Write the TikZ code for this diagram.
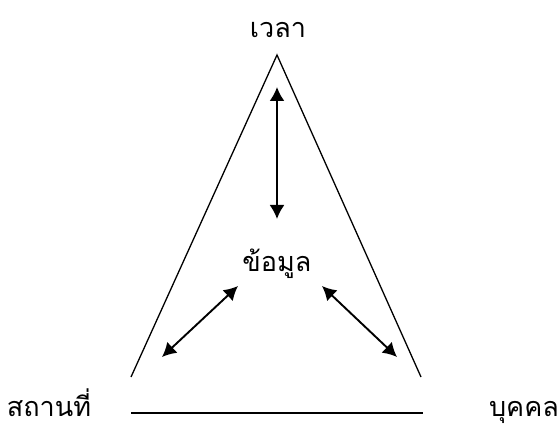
\documentclass[tikz,border=0pt]{standalone}
\usepackage{fontspec}
\newfontfamily\thaifont[Script=Thai]{Loma}
\usetikzlibrary{arrows.meta}

\begin{document}
\begin{tikzpicture}[
  x=1pt,
  y=-1pt,
  every node/.style={font=\thaifont\fontsize{27}{31}\selectfont, anchor=base, inner sep=0pt},
  edge/.style={line width=1.3pt},
  arrow/.style={{Latex[length=14pt,width=15pt]}-{Latex[length=14pt,width=15pt]}, line width=1.9pt}
]
\useasboundingbox (0,0) rectangle (559,430);

\node (time) at (278,38) {เวลา};
\node (info) at (277,272) {ข้อมูล};
\node (place) at (49,416) {สถานที่};
\node (person) at (524,416) {บุคคล};

\coordinate (apex) at (277,55);
\coordinate (leftfoot) at (131,377);
\coordinate (rightfoot) at (421,377);
\coordinate (baseleft) at (131,413);
\coordinate (baseright) at (423,413);

\coordinate (toptip) at (277,87);
\coordinate (midtop) at (277,219);
\coordinate (lefttip) at (162,357);
\coordinate (midleft) at (238,286);
\coordinate (midright) at (322,286);
\coordinate (righttip) at (397,357);

\draw[edge] (leftfoot) -- (apex) -- (rightfoot);
\draw[edge] (baseleft) -- (baseright);

\draw[arrow] (toptip) -- (midtop);
\draw[arrow] (lefttip) -- (midleft);
\draw[arrow] (midright) -- (righttip);
\end{tikzpicture}
\end{document}
